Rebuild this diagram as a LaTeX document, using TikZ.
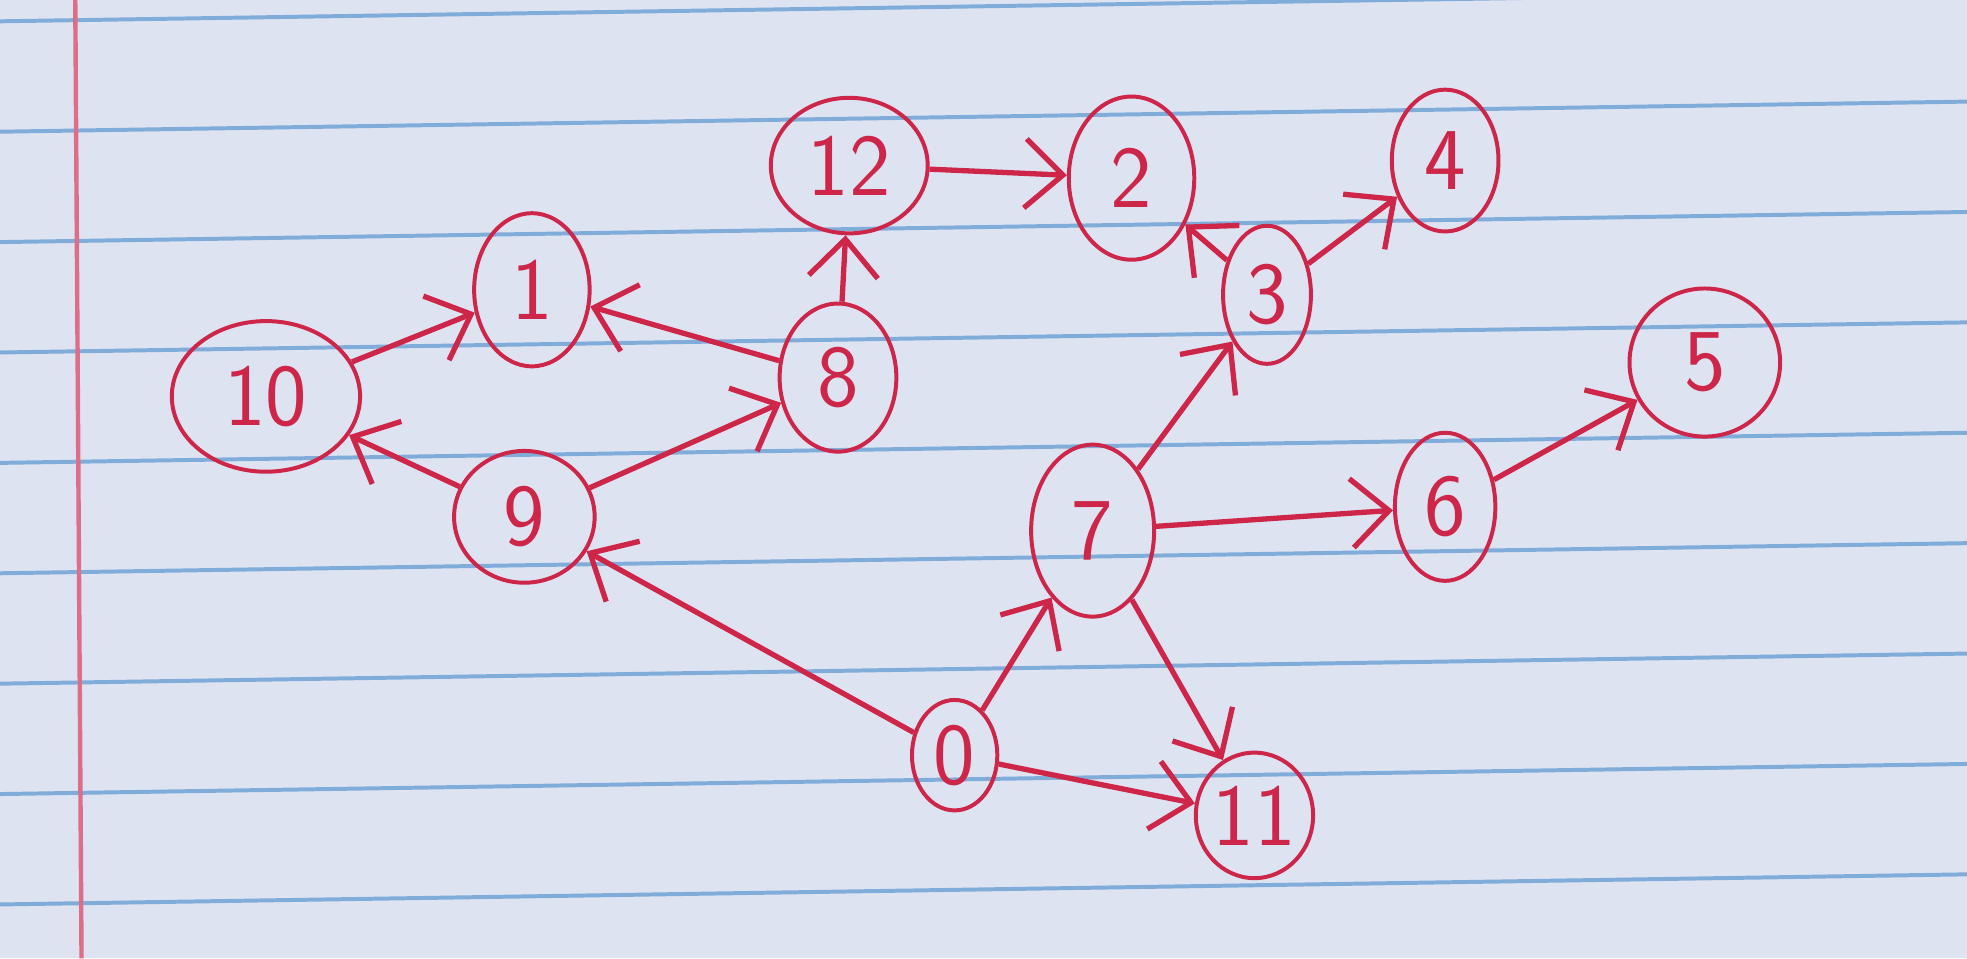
\documentclass[tikz,border=0pt]{standalone}
\usepackage{tikz}
\usetikzlibrary{arrows.meta, shapes.geometric}
\definecolor{ink}{RGB}{205,38,72}
\definecolor{paper}{RGB}{222,227,242}
\definecolor{ruling}{RGB}{128,172,218}
\definecolor{margin}{RGB}{222,110,135}
\tikzset{
    notebook/.style={>={Straight Barb[length=3mm,width=5.5mm]}, x=0.01cm, y=-0.01cm,
        line width=1.2pt, draw=ink, font=\sffamily\fontsize{20}{20}\selectfont},
    vertex/.style={draw=ink, ellipse, inner sep=0pt, line width=0.9pt, text=ink},
    edge/.style={->, draw=ink, line width=1.2pt},
    % ruled paper behind the graph
    rule/.style={ruling, line width=0.9pt},
}

\begin{document}
\begin{tikzpicture}[notebook]
    \useasboundingbox (0,0) rectangle (1568,764);
    \begin{scope}
        \clip (0,0) rectangle (1568,764);
        \fill[paper] (0,0) rectangle (1568,764);
        \foreach \y in {17,105,...,721}
            \draw[rule] (0,\y) -- (1568,\y-24);
        \draw[margin, line width=1pt] (60,0) -- (65,764);
    \end{scope}

    \node[vertex, minimum width=1.25cm, minimum height=1.08cm] (n12) at (677,132)  {12};
    \node[vertex, minimum width=1.00cm, minimum height=1.30cm] (n2)  at (902,142)  {2};
    \node[vertex, minimum width=0.85cm, minimum height=1.13cm] (n4)  at (1152,128) {4};
    \node[vertex, minimum width=0.70cm, minimum height=1.10cm] (n3)  at (1010,235) {3};
    \node[vertex, minimum width=0.92cm, minimum height=1.22cm] (n1)  at (424,231)  {1};
    \node[vertex, minimum width=1.50cm, minimum height=1.20cm] (n10) at (212,316)  {10};
    \node[vertex, minimum width=0.93cm, minimum height=1.18cm] (n8)  at (668,301)  {8};
    \node[vertex, minimum width=1.12cm, minimum height=1.05cm] (n9)  at (418,412)  {9};
    \node[vertex, minimum width=0.98cm, minimum height=1.37cm] (n7)  at (871,423)  {7};
    \node[vertex, minimum width=0.80cm, minimum height=1.18cm] (n6)  at (1152,404) {6};
    \node[vertex, minimum width=1.20cm, minimum height=1.18cm] (n5)  at (1359,289) {5};
    \node[vertex, minimum width=0.68cm, minimum height=0.88cm] (n0)  at (761,602)  {0};
    \node[vertex, minimum width=0.74cm, minimum height=1.00cm] (n11) at (1000,650) {11};

    \draw[edge] (n10) -- (n1);
    \draw[edge] (n8) -- (n1);
    \draw[edge] (n9) -- (n10);
    \draw[edge] (n9) -- (n8);
    \draw[edge] (n8) -- (n12);
    \draw[edge] (n12) -- (n2);
    \draw[edge] (n3) -- (n2);
    \draw[edge] (n3) -- (n4);
    \draw[edge] (n7) -- (n3);
    \draw[edge] (n7) -- (n6);
    \draw[edge] (n6) -- (n5);
    \draw[edge] (n0) -- (n7);
    \draw[edge] (n0) -- (n9);
    \draw[edge] (n0) -- (n11);
    \draw[edge] (n7) -- (n11);
\end{tikzpicture}
\end{document}
